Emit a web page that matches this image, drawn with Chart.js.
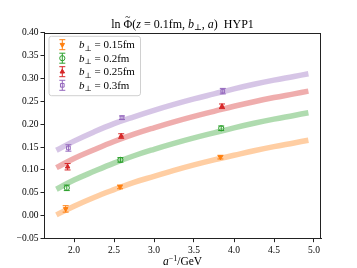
<!DOCTYPE html>
<html><head><meta charset="utf-8">
<script src="https://cdn.jsdelivr.net/npm/chart.js@4/dist/chart.umd.min.js"></script>
<style>html,body{margin:0;padding:0;background:#fff}#c{display:block}</style>
</head><body>
<canvas id="c" width="357" height="268"></canvas>
<script>
// ---------- data ----------
const xTicks = [2.0, 2.5, 3.0, 3.5, 4.0, 4.5, 5.0];
const yTicks = [-0.05, 0.00, 0.05, 0.10, 0.15, 0.20, 0.25, 0.30, 0.35, 0.40];
const seriesLabels = ['0.15fm', '0.2fm', '0.25fm', '0.3fm'];

// lattice points (a^-1 in GeV), values and errors
const ptX_015 = [1.896, 2.575, 3.830];
const ptY_015 = [0.015, 0.063, 0.128];
const ptE_015 = [0.007, 0.004, 0.004];
const ptX_020 = [1.910, 2.580, 3.840];
const ptY_020 = [0.061, 0.122, 0.191];
const ptE_020 = [0.006, 0.005, 0.005];
const ptX_025 = [1.920, 2.590, 3.850];
const ptY_025 = [0.107, 0.174, 0.239];
const ptE_025 = [0.007, 0.005, 0.005];
const ptX_030 = [1.930, 2.600, 3.860];
const ptY_030 = [0.148, 0.214, 0.272];
const ptE_030 = [0.007, 0.004, 0.006];

// fit bands (centre values)
const bandX    = [1.78, 2.00, 2.25, 2.50, 2.75, 3.00, 3.25, 3.50, 3.75, 4.00, 4.25, 4.50, 4.75, 4.93];
const band_015 = [0.002, 0.021, 0.040, 0.057, 0.073, 0.086, 0.099, 0.111, 0.122, 0.132, 0.142, 0.151, 0.159, 0.165];
const band_020 = [0.058, 0.078, 0.097, 0.115, 0.131, 0.145, 0.158, 0.170, 0.181, 0.192, 0.202, 0.211, 0.219, 0.225];
const band_025 = [0.105, 0.125, 0.144, 0.162, 0.178, 0.192, 0.205, 0.217, 0.228, 0.239, 0.249, 0.258, 0.266, 0.272];
const band_030 = [0.143, 0.163, 0.183, 0.201, 0.216, 0.230, 0.243, 0.255, 0.266, 0.277, 0.287, 0.296, 0.304, 0.310];

// ---------- styling ----------
const colors = ['#ff7f0e', '#2ca02c', '#d62728', '#9467bd'];
const bandColors = ['rgba(255,127,14,0.38)', 'rgba(44,160,44,0.38)', 'rgba(214,39,40,0.38)', 'rgba(148,103,189,0.38)'];
const markerDefs = [
  {style: 'triangle', rot: 180, fill: true},
  {style: 'circle', rot: 0, fill: false},
  {style: 'triangle', rot: 0, fill: true},
  {style: 'rect', rot: 0, fill: false}
];
const SERIF = '"Liberation Serif", "DejaVu Serif", serif';
const MR = 2.6;

const ptX = [ptX_015, ptX_020, ptX_025, ptX_030];
const ptY = [ptY_015, ptY_020, ptY_025, ptY_030];
const ptE = [ptE_015, ptE_020, ptE_025, ptE_030];
const bands = [band_015, band_020, band_025, band_030];

const datasets = [];
bands.forEach((b, i) => {
  datasets.push({
    type: 'line', label: 'band' + i,
    data: bandX.map((x, k) => ({x: x, y: b[k]})),
    borderColor: bandColors[i], borderWidth: 5.5, pointRadius: 0,
    tension: 0.4, fill: false, order: 5
  });
});
ptX.forEach((xs, i) => {
  const m = markerDefs[i];
  datasets.push({
    type: 'scatter', label: seriesLabels[i],
    data: xs.map((x, k) => ({x: x, y: ptY[i][k]})),
    pointStyle: m.style, rotation: m.rot, pointRadius: MR,
    borderColor: colors[i], backgroundColor: m.fill ? colors[i] : 'rgba(255,255,255,0)',
    borderWidth: 1, order: 1
  });
});

function drawRich(ctx, segs, x, y, size, align) {
  const fontFor = s => (s.s === 'i' ? 'italic ' : '') + ((s.s === 'sub' || s.s === 'sup') ? size * 0.7 : size) + 'px ' + SERIF;
  let total = 0;
  segs.forEach(s => { ctx.font = fontFor(s); s.w = ctx.measureText(s.t).width; total += s.w; });
  let cx = align === 'center' ? x - total / 2 : x;
  ctx.textBaseline = 'alphabetic'; ctx.textAlign = 'left';
  segs.forEach(s => {
    ctx.font = fontFor(s);
    ctx.fillText(s.t, cx, s.s === 'sub' ? y + size * 0.2 : (s.s === 'sup' ? y - size * 0.35 : y));
    if (s.tilde) {
      ctx.font = (size * 0.8) + 'px ' + SERIF;
      ctx.textAlign = 'center';
      ctx.fillText('~', cx + s.w / 2, y - size * 0.62);
      ctx.textAlign = 'left';
    }
    cx += s.w;
  });
}

function drawMarker(ctx, i, x, y, r) {
  const m = markerDefs[i];
  ctx.save();
  ctx.strokeStyle = colors[i]; ctx.fillStyle = m.fill ? colors[i] : 'rgba(0,0,0,0)';
  ctx.lineWidth = 1;
  Chart.helpers.drawPoint(ctx, {pointStyle: m.style, rotation: m.rot, radius: r, borderWidth: 1}, x, y);
  ctx.restore();
}

const decor = {
  id: 'decor',
  afterDatasetsDraw(chart) {
    const ctx = chart.ctx, xs = chart.scales.x, ys = chart.scales.y;
    ctx.save();
    ptX.forEach((arr, i) => {
      ctx.strokeStyle = colors[i]; ctx.lineWidth = 1;
      arr.forEach((xv, k) => {
        const px = xs.getPixelForValue(xv);
        const y1 = ys.getPixelForValue(ptY[i][k] - ptE[i][k]);
        const y2 = ys.getPixelForValue(ptY[i][k] + ptE[i][k]);
        ctx.beginPath();
        ctx.moveTo(px, y1); ctx.lineTo(px, y2);
        ctx.moveTo(px - 3, y1); ctx.lineTo(px + 3, y1);
        ctx.moveTo(px - 3, y2); ctx.lineTo(px + 3, y2);
        ctx.stroke();
      });
    });
    ctx.restore();
  },
  afterDraw(chart) {
    const ctx = chart.ctx, a = chart.chartArea;
    ctx.save();
    ctx.strokeStyle = '#222'; ctx.lineWidth = 1;
    ctx.strokeRect(Math.round(a.left) + 0.5, Math.round(a.top) + 0.5, Math.round(a.right - a.left) - 1, Math.round(a.bottom - a.top) - 1);
    ctx.fillStyle = '#000';
    drawRich(ctx, [
      {t: 'ln ', s: 'n'}, {t: 'Φ', s: 'n', tilde: true}, {t: '(', s: 'n'}, {t: 'z', s: 'i'},
      {t: ' = 0.1fm, ', s: 'n'}, {t: 'b', s: 'i'}, {t: '⊥', s: 'sub'}, {t: ', ', s: 'n'},
      {t: 'a', s: 'i'}, {t: ')  HYP1', s: 'n'}
    ], (a.left + a.right) / 2, 27.5, 12, 'center');
    drawRich(ctx, [
      {t: 'a', s: 'i'}, {t: '−1', s: 'sup'}, {t: '/GeV', s: 'n'}
    ], (a.left + a.right) / 2, 265, 11.5, 'center');
    const lx = 49, ly = 36.3, lw = 91.5, lh = 59.4, r = 2.5;
    ctx.beginPath();
    ctx.moveTo(lx + r, ly); ctx.lineTo(lx + lw - r, ly); ctx.quadraticCurveTo(lx + lw, ly, lx + lw, ly + r);
    ctx.lineTo(lx + lw, ly + lh - r); ctx.quadraticCurveTo(lx + lw, ly + lh, lx + lw - r, ly + lh);
    ctx.lineTo(lx + r, ly + lh); ctx.quadraticCurveTo(lx, ly + lh, lx, ly + lh - r);
    ctx.lineTo(lx, ly + r); ctx.quadraticCurveTo(lx, ly, lx + r, ly);
    ctx.closePath();
    ctx.fillStyle = 'rgba(255,255,255,0.8)'; ctx.fill();
    ctx.strokeStyle = '#d0d0d0'; ctx.lineWidth = 1; ctx.stroke();
    const rows = [44.7, 58.2, 71.7, 85.3];
    seriesLabels.forEach((lab, i) => {
      const y = rows[i], mx = 62.3;
      ctx.strokeStyle = colors[i]; ctx.lineWidth = 1;
      ctx.beginPath();
      ctx.moveTo(mx, y - 5); ctx.lineTo(mx, y + 5);
      ctx.moveTo(mx - 3, y - 5); ctx.lineTo(mx + 3, y - 5);
      ctx.moveTo(mx - 3, y + 5); ctx.lineTo(mx + 3, y + 5);
      ctx.stroke();
      drawMarker(ctx, i, mx, y, MR);
      ctx.fillStyle = '#000';
      drawRich(ctx, [
        {t: 'b', s: 'i'}, {t: '⊥', s: 'sub'}, {t: ' = ' + lab, s: 'n'}
      ], 79, y + 3.6, 11, 'left');
    });
    ctx.restore();
  }
};

const tickFont = {family: SERIF, size: 9.5};
new Chart(document.getElementById('c'), {
  data: {datasets: datasets},
  options: {
    responsive: false, animation: false, devicePixelRatio: 1,
    layout: {padding: {top: 32.5, right: 36, left: 0, bottom: 0}},
    plugins: {legend: {display: false}, tooltip: {enabled: false}, title: {display: false}},
    scales: {
      x: {
        type: 'linear', min: 1.625, max: 5.0875,
        afterBuildTicks: s => { s.ticks = xTicks.map(v => ({value: v})); },
        afterFit: s => { s.height = 29.3; },
        ticks: {font: tickFont, color: '#000', padding: 3, autoSkip: false, maxRotation: 0,
                callback: v => v.toFixed(1)},
        grid: {drawOnChartArea: false, drawTicks: true, tickLength: 3.5, color: '#222', tickWidth: 1},
        border: {display: true, color: '#222', width: 1}
      },
      y: {
        type: 'linear', min: -0.05, max: 0.40,
        afterBuildTicks: s => { s.ticks = yTicks.map(v => ({value: v})); },
        afterFit: s => { s.width = 44; },
        ticks: {font: tickFont, color: '#000', padding: 2, autoSkip: false,
                callback: v => (v < 0 ? '−' : '') + Math.abs(v).toFixed(2)},
        grid: {drawOnChartArea: false, drawTicks: true, tickLength: 3.5, color: '#222', tickWidth: 1},
        border: {display: true, color: '#222', width: 1}
      }
    }
  },
  plugins: [decor]
});
</script>
</body></html>
